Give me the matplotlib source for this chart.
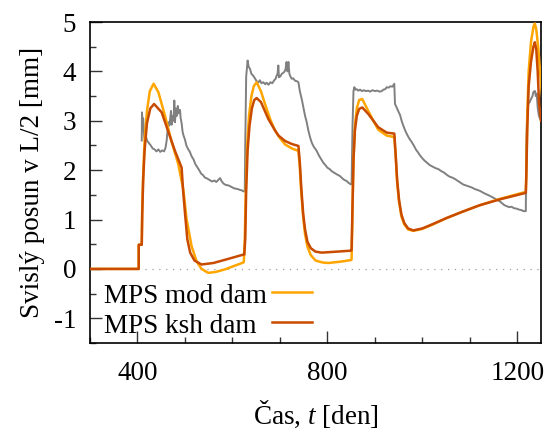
import matplotlib
matplotlib.use("Agg")
import matplotlib.pyplot as plt
from matplotlib.ticker import MultipleLocator
from matplotlib.lines import Line2D

plt.rcParams['font.family'] = ['Liberation Serif', 'DejaVu Serif']
plt.rcParams['mathtext.fontset'] = 'custom'
plt.rcParams['mathtext.rm'] = 'Liberation Serif'
plt.rcParams['mathtext.it'] = 'Liberation Serif:italic'
plt.rcParams['axes.unicode_minus'] = False

# --- data ---
exp_t = [409, 409.5, 411, 412, 414, 416, 418, 420, 424, 428, 432, 436, 440, 444, 448, 452,
         456, 459, 461.5, 463, 465, 467, 469, 470.6, 472, 474, 476, 477.6, 479, 481, 483,
         485, 487, 489.6, 491, 493, 495, 497, 500, 503, 507, 510, 514, 518, 522, 526, 530,
         534, 538, 542, 547, 552, 557, 562, 566, 570, 574, 577, 581, 586, 592, 598, 604,
         610, 616, 620, 623, 626,
         627, 629, 632, 634, 637, 640, 644, 648, 651, 655, 658, 661, 665, 669, 672, 676,
         680, 684, 688, 691, 693, 695, 696.7, 698, 701, 704, 707, 710, 712, 714, 716, 718,
         720, 722, 725, 728, 732, 736, 739, 742, 746, 750, 753, 756.5, 760, 764, 767, 771,
         774, 777.5, 782, 787, 791.5, 796, 800, 805, 809, 814, 819, 826.6, 832, 836, 840.7,
         845, 849.8,
         851, 853, 855, 856.8, 859, 861.7, 865, 869, 873, 877, 881, 886, 890, 895, 900, 905,
         910, 914.5, 918, 922, 925, 929, 933, 937, 941, 942.4, 946, 949, 953, 957, 960, 964,
         968, 972, 977.6, 982, 987, 991, 995, 1000, 1005, 1010, 1016, 1022, 1028, 1034,
         1040, 1046, 1051, 1057, 1063, 1069, 1075, 1080, 1086, 1092, 1098, 1104, 1110,
         1116, 1121.5, 1127, 1133, 1140, 1146, 1152, 1157, 1163, 1168, 1173, 1178, 1183,
         1188, 1193, 1199, 1204, 1209, 1213, 1216, 1218,
         1219, 1221, 1223.5, 1226, 1229, 1232, 1234, 1236, 1237.5, 1239, 1241, 1243,
         1245.6, 1250]
exp_u = [2.6, 3.17, 2.9, 3.05, 2.7, 2.59, 2.68, 2.6, 2.55, 2.5, 2.44, 2.42, 2.38, 2.42, 2.37,
         2.40, 2.38, 2.45, 2.6, 2.75, 2.97, 2.9, 3.05, 3.2, 2.92, 3.1, 3.0, 3.41, 2.97, 3.25,
         3.1, 3.3, 3.15, 3.22, 3.05, 2.95, 2.78, 2.7, 2.62, 2.5, 2.42, 2.38, 2.28, 2.22, 2.12,
         2.06, 2.0, 1.93, 1.9, 1.85, 1.83, 1.8, 1.77, 1.79, 1.76, 1.8, 1.84, 1.78, 1.73, 1.7,
         1.69, 1.66, 1.63, 1.62, 1.6, 1.59, 1.57, 1.57,
         2.5, 3.9, 4.22, 4.1, 4.05, 3.95, 3.91, 3.85, 3.8, 3.78, 3.82, 3.76, 3.78, 3.74,
         3.77, 3.73, 3.78, 3.76, 3.82, 3.85, 3.91, 3.95, 4.12, 3.88, 3.9, 3.95, 3.97, 4.0,
         4.05, 4.19, 4.0, 4.19, 3.95, 3.9, 3.85, 3.86, 3.81, 3.8, 3.78, 3.6, 3.44, 3.25, 3.1,
         2.97, 2.8, 2.65, 2.56, 2.48, 2.44, 2.39, 2.3, 2.22, 2.15, 2.1, 2.05, 2.02, 1.98,
         1.95, 1.92, 1.88, 1.83, 1.8, 1.78, 1.74, 1.71,
         1.72, 2.9, 3.6, 3.68, 3.63, 3.64, 3.61, 3.63, 3.6, 3.62, 3.6, 3.61, 3.59, 3.62, 3.6,
         3.61, 3.59, 3.6, 3.63, 3.64, 3.68, 3.67, 3.7, 3.69, 3.75, 3.34, 3.27, 3.2, 3.12,
         2.98, 2.9, 2.8, 2.72, 2.65, 2.57, 2.5, 2.41, 2.36, 2.3, 2.24, 2.19, 2.15, 2.1, 2.07,
         2.04, 2.02, 1.98, 1.95, 1.91, 1.87, 1.85, 1.82, 1.78, 1.75, 1.71, 1.69, 1.67, 1.65,
         1.62, 1.6, 1.58, 1.55, 1.52, 1.49, 1.46, 1.43, 1.40, 1.37, 1.33, 1.29, 1.27, 1.25,
         1.26, 1.23, 1.22, 1.20, 1.19, 1.17, 1.17, 1.17,
         2.5, 3.2, 3.34, 3.38, 3.44, 3.5, 3.58, 3.6, 3.6, 3.5, 3.55, 3.27, 3.1, 3.0]

mod_t = [300, 402.6, 402.7, 409, 410, 412, 415, 420, 426, 434, 444, 458, 472, 486, 496.5,
         503.6, 514, 524.7, 535, 549, 565, 584, 623, 624, 626, 628, 631, 635, 640, 645, 651,
         660, 670, 680, 690, 700, 711, 725, 739, 742, 745, 749, 753, 758, 765, 775, 790,
         802, 830, 850, 851, 853, 855, 858, 862, 867, 873.5, 886, 907, 925, 941, 944, 947,
         951, 956, 962, 970, 981, 1000, 1020, 1051, 1085, 1121, 1164, 1218, 1219, 1221,
         1224, 1229, 1234, 1237, 1240, 1244, 1248, 1252]
mod_u = [0, 0, 0.49, 0.49, 1.2, 1.9, 2.6, 3.2, 3.6, 3.75, 3.58, 3.10, 2.57, 2.12, 1.61,
         1.0, 0.46, 0.15, 0.0, -0.08, -0.06, -0.01, 0.13, 0.14, 0.6, 1.5, 2.5, 3.1, 3.5, 3.7,
         3.78, 3.6, 3.3, 3.02, 2.8, 2.65, 2.52, 2.44, 2.39, 2.05, 1.55, 1.05, 0.7, 0.45,
         0.28, 0.17, 0.13, 0.12, 0.15, 0.18, 0.19, 1.2, 2.2, 2.9, 3.25, 3.42, 3.44, 3.2,
         2.82, 2.70, 2.67, 2.25, 1.75, 1.35, 1.06, 0.9, 0.8, 0.77, 0.81, 0.89, 1.03, 1.16,
         1.29, 1.42, 1.56, 1.9, 3.1, 4.0, 4.6, 4.9, 4.97, 4.85, 4.5, 4.0, 3.5]

ksh_t = [300, 402.6, 402.7, 409, 410, 412, 415, 420, 427, 435, 451, 465.6, 479, 493,
         496, 500, 505, 511, 520, 535, 560, 590, 623, 625, 627, 629, 632, 636, 641, 646, 651,
         660, 676, 690, 697, 711, 725, 739, 742, 745, 749, 753, 758, 765, 775, 788, 820, 850,
         851, 853, 855, 858, 862, 867, 873.5, 886, 907, 925, 941, 944, 947, 951, 956, 962,
         970, 981, 1000, 1020, 1051, 1085, 1121, 1164, 1218, 1219, 1221, 1224, 1229, 1234,
         1237, 1240, 1243, 1246, 1250]
ksh_u = [0, 0, 0.49, 0.49, 1.1, 1.8, 2.4, 2.95, 3.25, 3.34, 3.17, 2.76, 2.39, 2.05,
         1.6, 1.14, 0.6, 0.33, 0.17, 0.09, 0.12, 0.2, 0.29, 0.29, 0.6, 1.6, 2.4, 2.9, 3.25,
         3.42, 3.46, 3.38, 3.03, 2.80, 2.70, 2.59, 2.53, 2.49, 2.15, 1.65, 1.12, 0.8, 0.55,
         0.42, 0.35, 0.33, 0.35, 0.37, 0.38, 1.3, 2.2, 2.8, 3.1, 3.24, 3.27, 3.14, 2.87, 2.76,
         2.74, 2.3, 1.8, 1.4, 1.1, 0.93, 0.82, 0.78, 0.82, 0.9, 1.03, 1.16, 1.29, 1.41, 1.54,
         1.85, 2.8, 3.7, 4.2, 4.5, 4.59, 4.45, 4.0, 3.34, 3.0]

labels = ["MPS mod dam", "MPS ksh dam"]
colors = ['#ffa500', '#c84b00']
xticks = [400, 800, 1200]
yticks = [-1, 0, 1, 2, 3, 4, 5]

FS = 19.5

# --- figure ---
fig = plt.figure(figsize=(5.51, 4.34), dpi=100)
ax = fig.add_axes([90 / 551, (434 - 343) / 434, (541 - 90) / 551, (343 - 22) / 434])

ax.axhline(0, color='#a0a0a0', lw=0.9, linestyle=(0, (1, 4.5)), zorder=1)
ax.plot(exp_t, exp_u, color='#808080', lw=1.4, zorder=2)
ax.plot(mod_t, mod_u, color=colors[0], lw=1.8, zorder=3)
ax.plot(ksh_t, ksh_u, color=colors[1], lw=1.8, zorder=4)

ax.set_xlim(300, 1250)
ax.set_ylim(-1.5, 5)
ax.set_xticks(xticks)
ax.set_yticks(yticks)
ax.xaxis.set_minor_locator(MultipleLocator(100))
ax.yaxis.set_minor_locator(MultipleLocator(0.5))
ax.tick_params(which='both', direction='in', top=False, right=False,
               labelsize=FS, width=1.0, color='#333333')
ax.tick_params(which='major', length=8.5)
ax.tick_params(which='minor', length=4.2)
ax.tick_params(axis='y', which='major', pad=10)
ax.tick_params(axis='x', which='major', pad=13)
for s in ax.spines.values():
    s.set_linewidth(1.2)

ax.set_xlabel("Čas, $t$ [den]", fontsize=FS, labelpad=9)
ax.set_ylabel("Svislý posun v L/2 [mm]", fontsize=FS, labelpad=6)

# gnuplot-style key: left-aligned text, line sample after it
text_x = 0.031
line_x = (0.4035, 0.492)
baselines = [0.1255, 0.032]
line_ys = [0.1585, 0.065]
for lab, col, yb, yl in zip(labels, colors, baselines, line_ys):
    ax.text(text_x, yb, lab, transform=ax.transAxes, fontsize=FS,
            ha='left', va='baseline', zorder=6)
    ax.add_line(Line2D(line_x, [yl, yl], transform=ax.transAxes, color=col,
                       lw=1.8, zorder=6))

fig.savefig("out.png", dpi=100)
